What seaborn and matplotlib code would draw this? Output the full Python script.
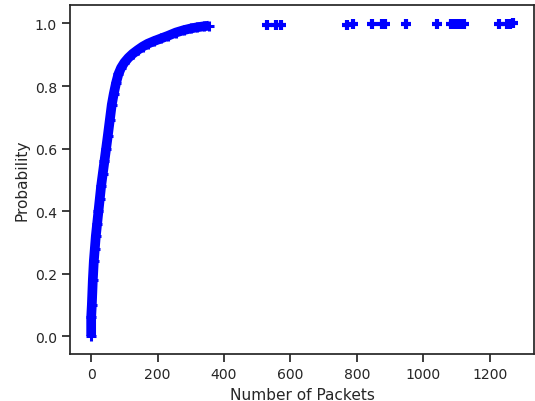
import numpy as np
import pandas as pd
import matplotlib
matplotlib.use("Agg")
import matplotlib.pyplot as plt
import seaborn as sns

# dense part of the CDF (packets per flow vs cumulative probability)
packets = [0, 0, 2, 5, 8, 11, 14, 18, 22, 26, 30, 35, 40, 45, 50, 56, 62, 68,
           75, 82, 90, 100, 112, 125, 140, 155, 170, 190, 210, 230, 255, 280,
           300, 320, 340, 355]
prob = [0.0, 0.06, 0.10, 0.18, 0.24, 0.28, 0.32, 0.36, 0.40, 0.44, 0.48, 0.52,
        0.56, 0.60, 0.64, 0.69, 0.74, 0.775, 0.81, 0.838, 0.858, 0.875, 0.89,
        0.903, 0.915, 0.926, 0.935, 0.944, 0.952, 0.96, 0.971, 0.979, 0.984,
        0.988, 0.991, 0.993]

# the few large flows in the tail
tail_packets = [529, 557, 571, 772, 790, 845, 875, 885, 949, 1042, 1083, 1090,
                1100, 1112, 1122, 1228, 1252, 1262, 1270]
tail_prob = [0.9960, 0.9962, 0.9964, 0.9966, 0.9968, 0.9970, 0.9972, 0.9974,
             0.9976, 0.9978, 0.9980, 0.9982, 0.9984, 0.9986, 0.9988, 0.9992,
             0.9995, 0.9998, 1.0]

df = pd.DataFrame({"packets": packets, "prob": prob})
tail = pd.DataFrame({"packets": tail_packets, "prob": tail_prob})

sns.set_theme(style="ticks", font_scale=0.92)
blue = "#0000ff"

fig = plt.figure(figsize=(5.35, 4.02), dpi=100)
ax = fig.add_axes([0.131, 0.117, 0.867, 0.868])

# thick line for the stacked samples, '+' markers on top
sns.lineplot(data=df, x="packets", y="prob", ax=ax, color=blue, sort=False,
             estimator=None, linewidth=7, solid_capstyle="butt",
             solid_joinstyle="round", marker="+", markersize=7,
             markeredgewidth=2.2, markeredgecolor=blue)
ax.plot(tail["packets"], tail["prob"], linestyle="none", marker="+",
        markersize=7.5, markeredgewidth=3, color=blue)

ax.set_xlim(-63.5, 1333.5)
ax.set_ylim(-0.057, 1.059)
ax.set_xticks([0, 200, 400, 600, 800, 1000, 1200])
ax.set_yticks([0.0, 0.2, 0.4, 0.6, 0.8, 1.0])
ax.set_xlabel("Number of Packets")
ax.set_ylabel("Probability")

fig.savefig("out.png", dpi=100)
